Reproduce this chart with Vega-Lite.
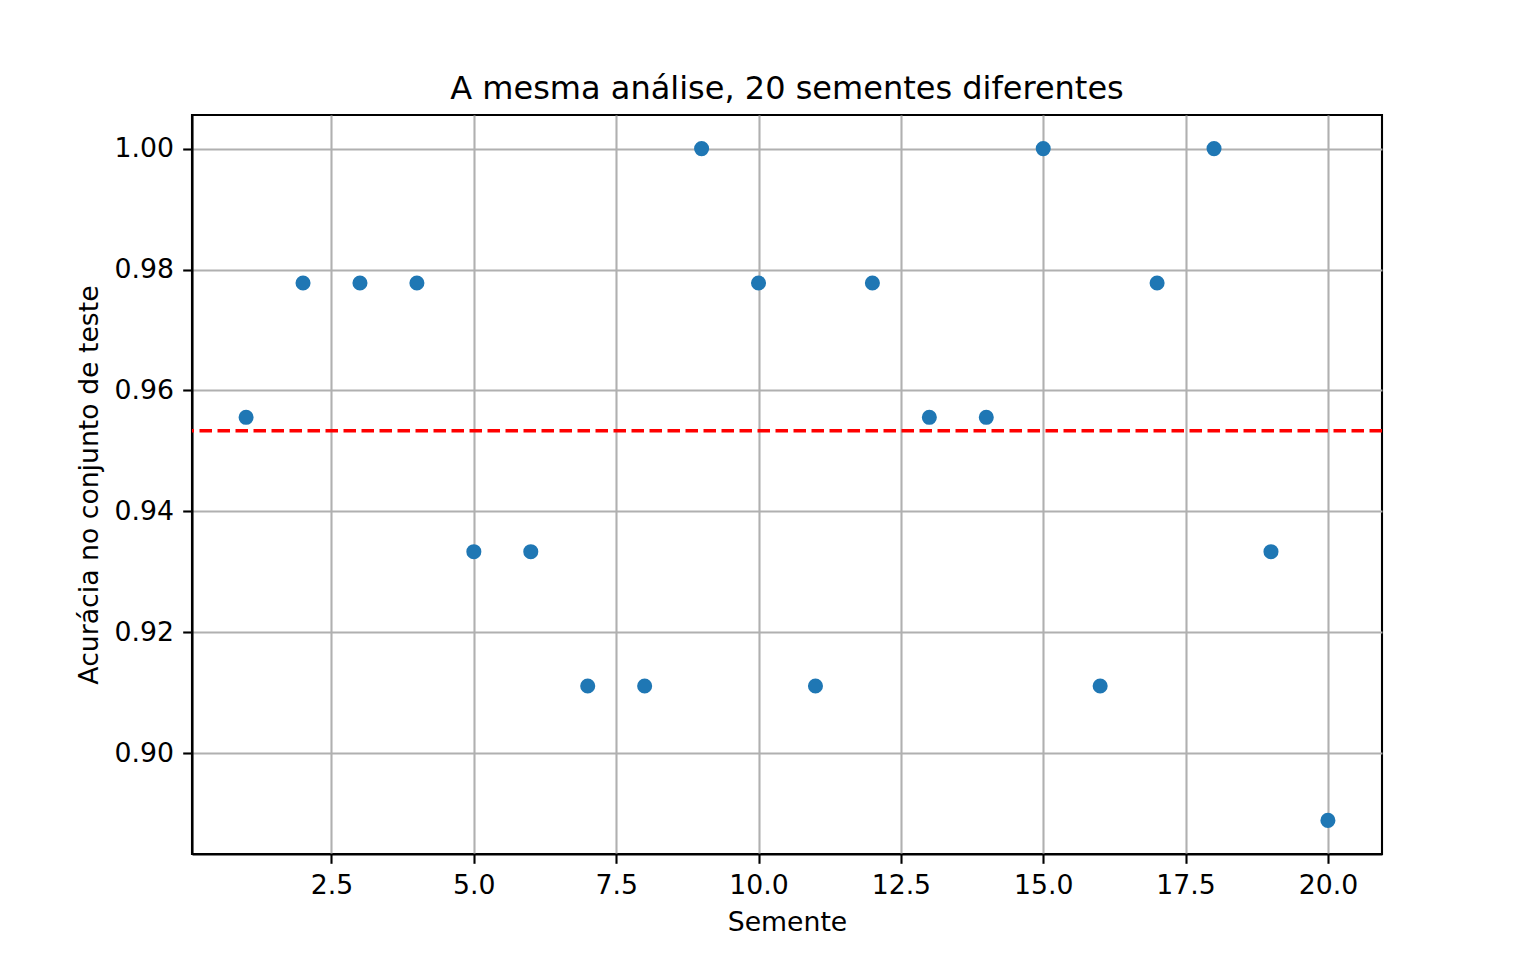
{
  "$schema": "https://vega.github.io/schema/vega-lite/v6.json",
  "width": 1190,
  "height": 739,
  "autosize": {"type": "none"},
  "padding": {"left": 192, "top": 115, "right": 154, "bottom": 106},
  "background": "white",
  "title": {
    "text": "A mesma análise, 20 sementes diferentes",
    "font": "DejaVu Sans",
    "fontSize": 32,
    "fontWeight": "normal",
    "color": "black",
    "offset": 9
  },
  "config": {
    "font": "DejaVu Sans",
    "view": {"stroke": "black", "strokeWidth": 2.1},
    "axis": {
      "labelFont": "DejaVu Sans",
      "labelFontSize": 26.7,
      "labelColor": "black",
      "titleFont": "DejaVu Sans",
      "titleFontSize": 26.7,
      "titleFontWeight": "normal",
      "titleColor": "black",
      "tickColor": "black",
      "tickSize": 9.3,
      "tickWidth": 2.1,
      "domainColor": "black",
      "domainWidth": 2.1,
      "gridColor": "#b0b0b0",
      "gridWidth": 2.1,
      "gridOpacity": 1
    }
  },
  "layer": [
    {
      "data": {
        "values": [
          {"semente": 1, "acuracia": 0.955556},
          {"semente": 2, "acuracia": 0.977778},
          {"semente": 3, "acuracia": 0.977778},
          {"semente": 4, "acuracia": 0.977778},
          {"semente": 5, "acuracia": 0.933333},
          {"semente": 6, "acuracia": 0.933333},
          {"semente": 7, "acuracia": 0.911111},
          {"semente": 8, "acuracia": 0.911111},
          {"semente": 9, "acuracia": 1.0},
          {"semente": 10, "acuracia": 0.977778},
          {"semente": 11, "acuracia": 0.911111},
          {"semente": 12, "acuracia": 0.977778},
          {"semente": 13, "acuracia": 0.955556},
          {"semente": 14, "acuracia": 0.955556},
          {"semente": 15, "acuracia": 1.0},
          {"semente": 16, "acuracia": 0.911111},
          {"semente": 17, "acuracia": 0.977778},
          {"semente": 18, "acuracia": 1.0},
          {"semente": 19, "acuracia": 0.933333},
          {"semente": 20, "acuracia": 0.888889}
        ]
      },
      "mark": {"type": "circle", "size": 227, "color": "#1f77b4", "opacity": 1},
      "encoding": {
        "x": {
          "field": "semente",
          "type": "quantitative",
          "title": "Semente",
          "scale": {"domain": [0.05, 20.95], "nice": false, "zero": false},
          "axis": {
            "values": [2.5, 5, 7.5, 10, 12.5, 15, 17.5, 20],
            "format": ".1f",
            "labelPadding": 9,
            "titlePadding": 10,
            "labelFlush": false
          }
        },
        "y": {
          "field": "acuracia",
          "type": "quantitative",
          "title": "Acurácia no conjunto de teste",
          "scale": {"domain": [0.883333, 1.005556], "nice": false, "zero": false},
          "axis": {
            "values": [0.9, 0.92, 0.94, 0.96, 0.98, 1.0],
            "format": ".2f",
            "labelPadding": 9.3,
            "titlePadding": 10,
            "labelFlush": false
          }
        }
      }
    },
    {
      "data": {"values": [{"media": 0.953333}]},
      "mark": {"type": "rule", "color": "red", "strokeWidth": 3.3, "strokeDash": [12.5, 5.5]},
      "encoding": {
        "y": {"field": "media", "type": "quantitative"}
      }
    }
  ]
}
